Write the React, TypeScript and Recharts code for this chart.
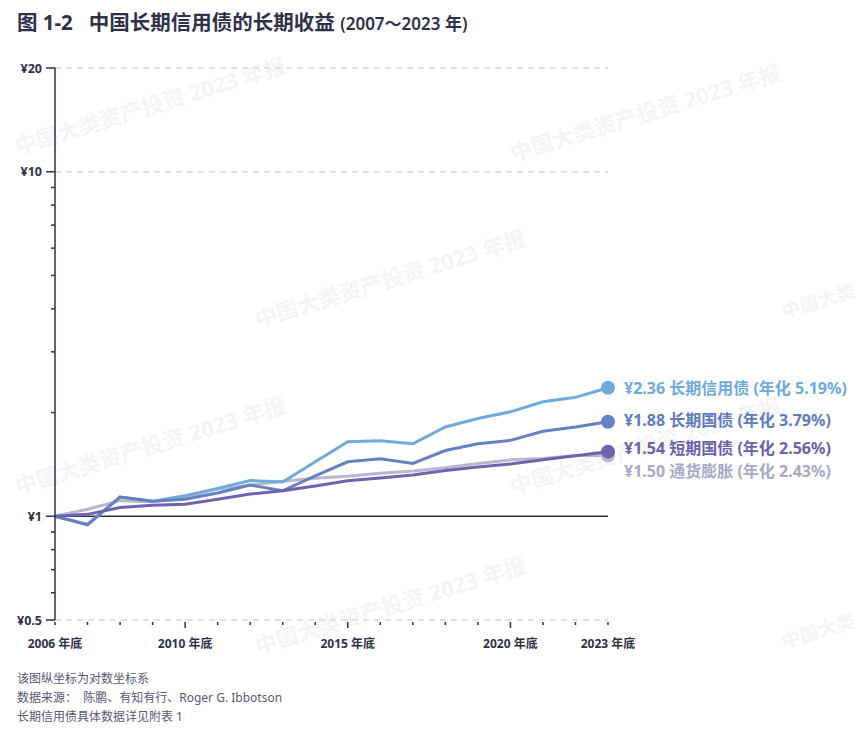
import React from "react";
import { LineChart, Line, XAxis, YAxis, ReferenceLine } from "recharts";

// Cumulative value of ¥1 invested at end of 2006 (log scale chart)
const YEARS = [2006, 2007, 2008, 2009, 2010, 2011, 2012, 2013, 2014, 2015, 2016, 2017, 2018, 2019, 2020, 2021, 2022, 2023];
const CREDIT = [1.0, 0.947, 1.137, 1.106, 1.147, 1.205, 1.27, 1.258, 1.439, 1.645, 1.657, 1.624, 1.816, 1.922, 2.01, 2.15, 2.214, 2.36];
const LONG_GOV = [1.0, 0.945, 1.137, 1.106, 1.121, 1.168, 1.232, 1.186, 1.309, 1.439, 1.468, 1.424, 1.552, 1.624, 1.661, 1.764, 1.816, 1.88];
const SHORT_GOV = [1.0, 1.013, 1.06, 1.077, 1.084, 1.121, 1.16, 1.186, 1.224, 1.268, 1.291, 1.318, 1.357, 1.391, 1.419, 1.458, 1.498, 1.54];
const CPI = [1.0, 1.048, 1.11, 1.102, 1.139, 1.2, 1.231, 1.263, 1.289, 1.307, 1.333, 1.354, 1.383, 1.423, 1.458, 1.471, 1.501, 1.5];

const SERIES_NAMES = ["长期信用债", "长期国债", "短期国债", "通货膨胀"];
const ANNUALIZED = ["5.19%", "3.79%", "2.56%", "2.43%"];

const Y_TICKS = [0.5, 0.6, 0.7, 0.8, 0.9, 1, 2, 3, 4, 5, 6, 7, 8, 9, 10, 20];
const Y_LABELED = [0.5, 1, 10, 20];
const X_LABELED = [2006, 2010, 2015, 2020, 2023];

const DATA = YEARS.map((year, i) => ({
  year,
  credit: CREDIT[i],
  longGov: LONG_GOV[i],
  shortGov: SHORT_GOV[i],
  cpi: CPI[i],
}));

const FONT = '"Noto Sans", "Noto Sans CJK SC", sans-serif';
const INK = "#2e3149";

const WATERMARKS = [
  [150, 105], [645, 112], [390, 278],
  [150, 445], [645, 445], [390, 605],
];
const WATERMARK_EDGE = [
  [782, 312], [782, 642],
];

function YTick(props: any) {
  const { x, y, payload } = props;
  const labeled = Y_LABELED.includes(payload.value);
  return (
    <g>
      <line x1={labeled ? x - 9 : x - 4} x2={x} y1={y} y2={y} stroke={INK} strokeWidth={1.5} />
      {labeled && (
        <text x={x - 13} y={y} textAnchor="end" dominantBaseline="central"
          fontSize={12.5} fontWeight={700} fill={INK} fontFamily={FONT}>
          {`¥${payload.value}`}
        </text>
      )}
    </g>
  );
}

function XTick(props: any) {
  const { x, y, payload } = props;
  const labeled = X_LABELED.includes(payload.value);
  const big = labeled && payload.value !== 2006 && payload.value !== 2023;
  return (
    <g>
      <line x1={x} x2={x} y1={y + 2} y2={y + (big ? 8 : 5)} stroke={INK} strokeWidth={1.5} />
      {labeled && (
        <text x={x} y={y + 23} textAnchor="middle" dominantBaseline="central"
          fontSize={12} fontWeight={700} fill={INK} fontFamily={FONT}>
          {`${payload.value} 年底`}
        </text>
      )}
    </g>
  );
}

function makeEndDot(idx: number, color: string, textColor: string, dy: number) {
  return (props: any) => {
    const { cx, cy, index, value } = props;
    if (index !== YEARS.length - 1) return <g key={`d${idx}-${index}`} />;
    const v = Array.isArray(value) ? value[1] : value;
    return (
      <g key={`d${idx}-${index}`}>
        <circle cx={cx} cy={cy} r={7} fill={color} />
        <text x={cx + 16} y={cy + dy} dominantBaseline="central" fontSize={16}
          fontWeight={700} fill={textColor} fontFamily={FONT}>
          {`¥${Number(v).toFixed(2)} ${SERIES_NAMES[idx]} (年化 ${ANNUALIZED[idx]})`}
        </text>
      </g>
    );
  };
}

export default function App() {
  return (
    <div style={{ position: "absolute", left: 0, top: 0, width: 861, height: 733, background: "#fff", fontFamily: FONT, overflow: "hidden" }}>
      <svg width={861} height={733} style={{ position: "absolute", left: 0, top: 0 }}>
        {WATERMARKS.map(([cx, cy], i) => (
          <text key={i} x={cx} y={cy} textAnchor="middle" dominantBaseline="central"
            fontSize={22} fontWeight={700} fill="#f4f4f7" fontFamily={FONT}
            transform={`rotate(-17 ${cx} ${cy})`}>
            中国大类资产投资 2023 年报
          </text>
        ))}
        {WATERMARK_EDGE.map(([sx, sy], i) => (
          <text key={`e${i}`} x={sx} y={sy} dominantBaseline="central"
            fontSize={19} fontWeight={700} fill="#f4f4f7" fontFamily={FONT}
            transform={`rotate(-17 ${sx} ${sy})`}>
            中国大类
          </text>
        ))}
      </svg>

      <div style={{ position: "absolute", left: 17, top: 6, color: INK, whiteSpace: "nowrap" }}>
        <span style={{ fontSize: 20.5, fontWeight: 700 }}>图 1-2&nbsp;&nbsp;&nbsp;中国长期信用债的长期收益 </span>
        <span style={{ fontSize: 17, fontWeight: 600 }}>(2007～2023 年)</span>
      </div>

      <div style={{ position: "absolute", left: 0, top: 0 }}>
        <LineChart width={861} height={733} data={DATA} margin={{ top: 68, right: 253, left: 0, bottom: 0 }}>
          <XAxis
            dataKey="year"
            type="number"
            domain={[2006, 2023]}
            ticks={YEARS}
            interval={0}
            height={113}
            axisLine={false}
            tickLine={false}
            tickSize={0}
            tickMargin={0}
            tick={<XTick />}
          />
          <YAxis
            scale="log"
            domain={[0.5, 20]}
            allowDataOverflow
            ticks={Y_TICKS}
            interval={0}
            width={55}
            axisLine={{ stroke: INK, strokeWidth: 1.5 }}
            tickLine={false}
            tickSize={0}
            tickMargin={0}
            tick={<YTick />}
          />
          <ReferenceLine y={20} stroke="#d6d8e3" strokeWidth={1.5} strokeDasharray="6 5" />
          <ReferenceLine y={10} stroke="#d6d8e3" strokeWidth={1.5} strokeDasharray="6 5" />
          <ReferenceLine y={0.5} stroke="#d6d8e3" strokeWidth={1.5} strokeDasharray="6 5" />
          <ReferenceLine y={1} stroke={INK} strokeWidth={1.5} />
          <Line type="linear" dataKey="cpi" stroke="#b7b9cf" strokeWidth={3}
            dot={makeEndDot(3, "#b7b9cf", "#a7aac5", 15)} activeDot={false} isAnimationActive={false} />
          <Line type="linear" dataKey="credit" stroke="#6eaadb" strokeWidth={3}
            dot={makeEndDot(0, "#6eaadb", "#6eaadb", 0)} activeDot={false} isAnimationActive={false} />
          <Line type="linear" dataKey="longGov" stroke="#6482c2" strokeWidth={3}
            dot={makeEndDot(1, "#6482c2", "#5f7bbd", -2)} activeDot={false} isAnimationActive={false} />
          <Line type="linear" dataKey="shortGov" stroke="#6c64ae" strokeWidth={3}
            dot={makeEndDot(2, "#6c64ae", "#6a62ac", -4)} activeDot={false} isAnimationActive={false} />
        </LineChart>
      </div>

      <div style={{ position: "absolute", left: 17, top: 669, fontSize: 12, lineHeight: "19px", color: "#555a78" }}>
        <div>该图纵坐标为对数坐标系</div>
        <div>数据来源：&nbsp;&nbsp;陈鹏、有知有行、Roger G. Ibbotson</div>
        <div>长期信用债具体数据详见附表 1</div>
      </div>
    </div>
  );
}
